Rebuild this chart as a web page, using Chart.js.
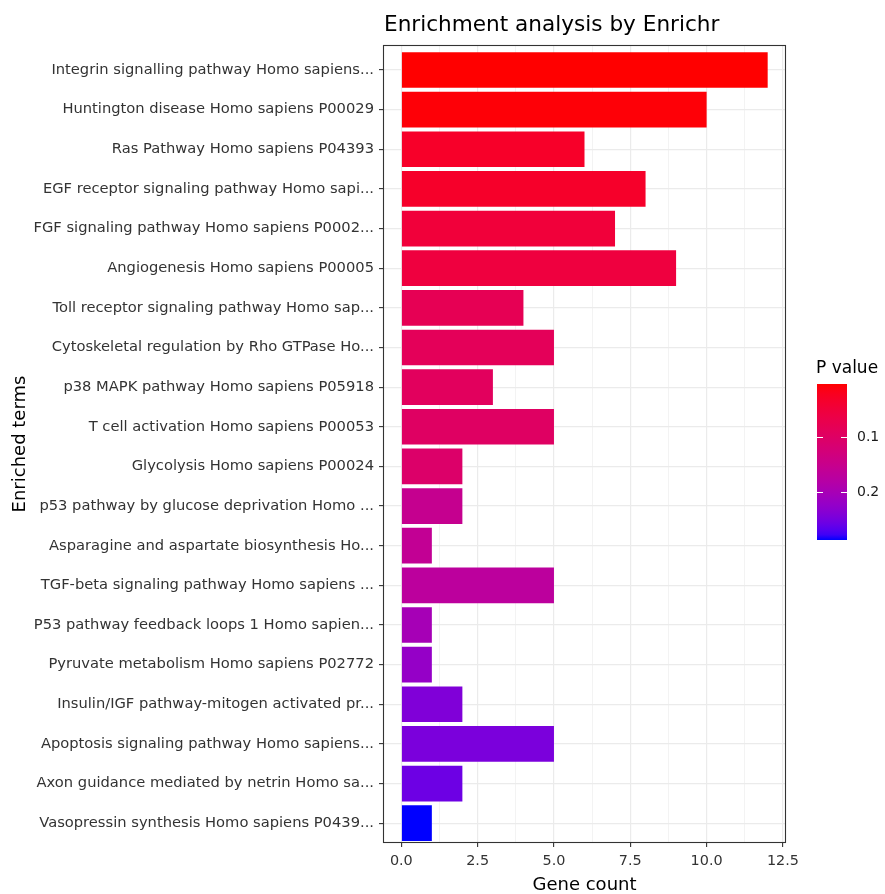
<!DOCTYPE html>
<html>
<head>
<meta charset="utf-8">
<script src="https://cdn.jsdelivr.net/npm/chart.js@4.4.1/dist/chart.umd.min.js"></script>
<style>
  html, body { margin: 0; padding: 0; background: #fff; }
  canvas { display: block; }
</style>
</head>
<body>
<canvas id="c" width="885" height="894"></canvas>
<script>
/* Enrichr 結果の横棒グラフ — ggplot 風 (theme_bw + 赤→青グラデーション) */

var categories = [
  'Integrin signalling pathway Homo sapiens...',
  'Huntington disease Homo sapiens P00029',
  'Ras Pathway Homo sapiens P04393',
  'EGF receptor signaling pathway Homo sapi...',
  'FGF signaling pathway Homo sapiens P0002...',
  'Angiogenesis Homo sapiens P00005',
  'Toll receptor signaling pathway Homo sap...',
  'Cytoskeletal regulation by Rho GTPase Ho...',
  'p38 MAPK pathway Homo sapiens P05918',
  'T cell activation Homo sapiens P00053',
  'Glycolysis Homo sapiens P00024',
  'p53 pathway by glucose deprivation Homo ...',
  'Asparagine and aspartate biosynthesis Ho...',
  'TGF-beta signaling pathway Homo sapiens ...',
  'P53 pathway feedback loops 1 Homo sapien...',
  'Pyruvate metabolism Homo sapiens P02772',
  'Insulin/IGF pathway-mitogen activated pr...',
  'Apoptosis signaling pathway Homo sapiens...',
  'Axon guidance mediated by netrin Homo sa...',
  'Vasopressin synthesis Homo sapiens P0439...'
];
var geneCounts = [12, 10, 6, 8, 7, 9, 4, 5, 3, 5, 2, 2, 1, 5, 1, 1, 2, 5, 2, 1];
var pValues = [0.005, 0.008, 0.032, 0.033, 0.050, 0.056, 0.081, 0.087, 0.092, 0.098,
               0.107, 0.154, 0.160, 0.171, 0.202, 0.222, 0.242, 0.246, 0.256, 0.287];
var xTicks = [0, 2.5, 5, 7.5, 10, 12.5];
var xMinorTicks = [1.25, 3.75, 6.25, 8.75, 11.25];
var legendTicks = [0.1, 0.2];

var FONT = '"DejaVu Sans", sans-serif';
var AXIS_TEXT = '#333333';
var GRID = '#EBEBEB';

/* ---------- 色: CIELAB 上で red → blue を補間 (scales::seq_gradient_pal 相当) ---------- */
function toLin(c) { c /= 255; return c <= 0.04045 ? c / 12.92 : Math.pow((c + 0.055) / 1.055, 2.4); }
function toSrgb(c) {
  c = c <= 0.0031308 ? 12.92 * c : 1.055 * Math.pow(c, 1 / 2.4) - 0.055;
  return Math.round(Math.max(0, Math.min(1, c)) * 255);
}
var WX = 0.95047, WY = 1, WZ = 1.08883;
function labF(t) { return t > 0.008856 ? Math.cbrt(t) : 7.787 * t + 16 / 116; }
function labFi(t) { return t > 0.206893 ? t * t * t : (t - 16 / 116) / 7.787; }
function rgb2lab(rgb) {
  var r = toLin(rgb[0]), g = toLin(rgb[1]), b = toLin(rgb[2]);
  var x = 0.4124 * r + 0.3576 * g + 0.1805 * b;
  var y = 0.2126 * r + 0.7152 * g + 0.0722 * b;
  var z = 0.0193 * r + 0.1192 * g + 0.9505 * b;
  var fx = labF(x / WX), fy = labF(y / WY), fz = labF(z / WZ);
  return [116 * fy - 16, 500 * (fx - fy), 200 * (fy - fz)];
}
function lab2rgb(lab) {
  var fy = (lab[0] + 16) / 116, fx = fy + lab[1] / 500, fz = fy - lab[2] / 200;
  var x = WX * labFi(fx), y = WY * labFi(fy), z = WZ * labFi(fz);
  var r = 3.2406 * x - 1.5372 * y - 0.4986 * z;
  var g = -0.9689 * x + 1.8758 * y + 0.0415 * z;
  var b = 0.0557 * x - 0.2040 * y + 1.0570 * z;
  return 'rgb(' + toSrgb(r) + ',' + toSrgb(g) + ',' + toSrgb(b) + ')';
}
var LOW = rgb2lab([255, 0, 0]), HIGH = rgb2lab([0, 0, 255]);
var P_MIN = Math.min.apply(null, pValues), P_MAX = Math.max.apply(null, pValues);
function rampColor(p) {
  var t = (p - P_MIN) / (P_MAX - P_MIN);
  return lab2rgb([0, 1, 2].map(function (i) { return LOW[i] + (HIGH[i] - LOW[i]) * t; }));
}
var barColors = pValues.map(rampColor);

/* ---------- タイトル・パネル枠・カラーバー凡例 ---------- */
var decor = {
  id: 'decor',
  afterDraw: function (chart) {
    var ctx = chart.ctx, a = chart.chartArea;
    ctx.save();
    // パネル枠 (theme_bw)
    ctx.strokeStyle = '#333333';
    ctx.lineWidth = 1.1;
    ctx.strokeRect(Math.round(a.left) + 0.5, Math.round(a.top) + 0.5,
                   Math.round(a.right - a.left) - 1, Math.round(a.bottom - a.top) - 1);

    // タイトル
    ctx.fillStyle = '#000';
    ctx.font = '21.6px ' + FONT;
    ctx.textAlign = 'left';
    ctx.textBaseline = 'alphabetic';
    ctx.fillText('Enrichment analysis by Enrichr', 384, 31);

    // 凡例
    var bx = 817, bw = 30, by = 384, bh = 156;
    ctx.font = '17px ' + FONT;
    ctx.fillText('P value', 816, 373);
    var grad = ctx.createLinearGradient(0, by, 0, by + bh);
    for (var i = 0; i <= 30; i++) {
      grad.addColorStop(i / 30, rampColor(P_MIN + (P_MAX - P_MIN) * i / 30));
    }
    ctx.fillStyle = grad;
    ctx.fillRect(bx, by, bw, bh);
    ctx.font = '14px ' + FONT;
    ctx.textBaseline = 'middle';
    legendTicks.forEach(function (p) {
      var y = Math.round(by + (p - P_MIN) / (P_MAX - P_MIN) * bh) + 0.5;
      ctx.strokeStyle = '#fff';
      ctx.lineWidth = 1;
      ctx.beginPath();
      ctx.moveTo(bx, y); ctx.lineTo(bx + 6, y);
      ctx.moveTo(bx + bw - 6, y); ctx.lineTo(bx + bw, y);
      ctx.stroke();
      ctx.fillStyle = '#1A1A1A';
      ctx.fillText(p.toFixed(1), 857, y);
    });
    ctx.restore();
  }
};

new Chart(document.getElementById('c'), {
  type: 'bar',
  data: {
    datasets: [{
      label: 'Gene count',
      data: geneCounts.map(function (v, i) { return { x: v, y: i }; }),
      backgroundColor: barColors,
      borderWidth: 0,
      barPercentage: 0.9,
      categoryPercentage: 1
    }]
  },
  options: {
    indexAxis: 'y',
    responsive: false,
    animation: false,
    layout: { padding: { top: 45, right: 99, bottom: 0, left: 0 } },
    plugins: { legend: { display: false }, title: { display: false }, tooltip: { enabled: false } },
    scales: {
      x: {
        type: 'linear',
        min: -0.6, max: 12.6,
        afterBuildTicks: function (s) {
          s.ticks = xTicks.concat(xMinorTicks).sort(function (p, q) { return p - q; })
            .map(function (v) { return { value: v }; });
        },
        afterFit: function (s) { s.height = 51; },
        border: { display: false },
        grid: {
          color: GRID,
          lineWidth: function (c) { return xTicks.indexOf(c.tick && c.tick.value) >= 0 ? 1.2 : 0.6; },
          tickColor: function (c) { return xTicks.indexOf(c.tick && c.tick.value) >= 0 ? '#333333' : 'rgba(0,0,0,0)'; },
          tickLength: 4,
          tickWidth: 1.1
        },
        ticks: {
          autoSkip: false, maxRotation: 0, padding: 6,
          color: AXIS_TEXT, font: { family: FONT, size: 14.4 },
          callback: function (v) { return xTicks.indexOf(v) >= 0 ? v.toFixed(1) : ''; }
        },
        title: {
          display: true, text: 'Gene count', color: '#000',
          font: { family: FONT, size: 18, lineHeight: 1 }, padding: { top: 0, bottom: 0 }
        }
      },
      y: {
        type: 'linear',
        reverse: true,
        offset: false,
        min: -0.63, max: 19.5,
        afterBuildTicks: function (s) {
          s.ticks = categories.map(function (_, i) { return { value: i }; });
        },
        afterFit: function (s) { s.width = 383; },
        border: { display: false },
        grid: {
          offset: false,
          color: GRID, lineWidth: 1.2,
          tickColor: '#333333', tickLength: 4, tickWidth: 1.1
        },
        ticks: {
          autoSkip: false, padding: 5,
          color: AXIS_TEXT, font: { family: FONT, size: 14.7 },
          callback: function (v) { return categories[v]; }
        },
        title: {
          display: true, text: 'Enriched terms', color: '#000',
          font: { family: FONT, size: 18 }, padding: { top: 10, bottom: 0 }
        }
      }
    }
  },
  plugins: [decor]
});
</script>
</body>
</html>
